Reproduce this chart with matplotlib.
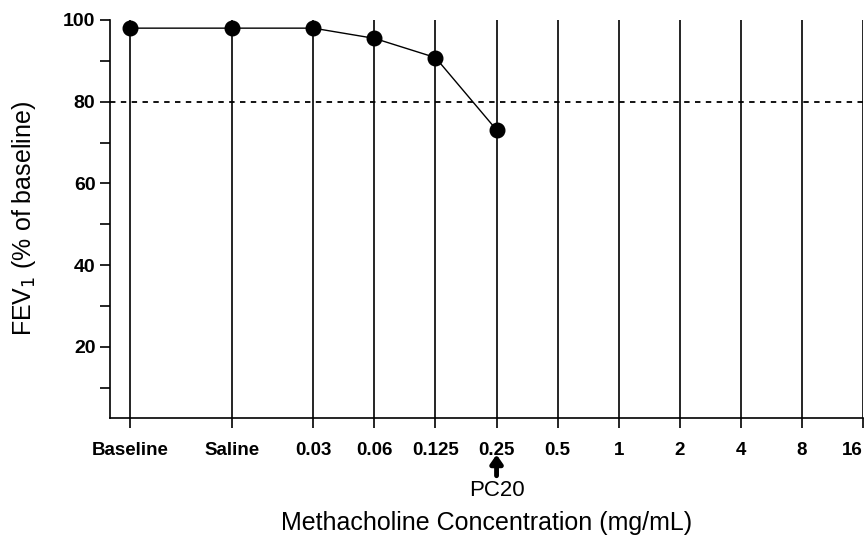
import numpy as np
import matplotlib.pyplot as plt

plt.rcParams['font.family'] = ['Liberation Sans', 'DejaVu Sans']

# ==== DATA ==================================================

categories = ["Baseline", "Saline", "0.03", "0.06", "0.125", "0.25",
              "0.5", "1", "2", "4", "8", "16"]
fev1 = [98, 98, 98, 95.5, 90.8, 73.1]   # % of baseline, first 6 steps
threshold = 80
pc20_label = "PC20"
pc20_index = 5

# ============================================================

# uneven spacing for baseline/saline, then one step per doubling
xpos = np.array([-3.0, -1.33] + list(range(len(categories) - 2)), dtype=float)

fig = plt.figure(figsize=(8.68, 5.37), dpi=100)
ax = fig.add_axes([0.1267, 0.2216, 0.8675, 0.7412])

for x in xpos:
    ax.axvline(x, color="black", lw=1.2, zorder=1)
ax.axhline(threshold, color="black", lw=1.3, ls=(0, (3, 3)), zorder=1)

ax.plot(xpos[:len(fev1)], fev1, color="black", lw=1.0, marker="o",
        ms=10.5, zorder=3, clip_on=False)

ax.set_xlim(-3.33, xpos[-1])
ax.set_ylim(2.6, 100)

ax.set_xticks(xpos)
ax.set_xticklabels(categories, fontsize=13.5, fontweight="bold")
ax.get_xticklabels()[-1].set_horizontalalignment("right")
ax.set_yticks([20, 40, 60, 80, 100])
ax.set_yticks([10, 30, 50, 70, 90], minor=True)
ax.tick_params(axis="y", which="both", length=7, width=1.2, labelsize=14)
for lab in ax.get_yticklabels():
    lab.set_fontweight("bold")
ax.tick_params(axis="x", length=7, width=1.2, pad=10)

for side in ["top", "right"]:
    ax.spines[side].set_visible(False)
ax.spines["left"].set_linewidth(1.2)
ax.spines["bottom"].set_linewidth(1.2)

# PC20 marker under the 0.25 step
xc = xpos[pc20_index]
ax.annotate("", xy=(xc, -0.092), xytext=(xc, -0.145),
            xycoords=("data", "axes fraction"),
            textcoords=("data", "axes fraction"), annotation_clip=False,
            arrowprops=dict(arrowstyle="-|>,head_width=0.35,head_length=0.5",
                            lw=3.5, color="black", shrinkA=0, shrinkB=0))
ax.text(xc, -0.182, pc20_label, transform=ax.get_xaxis_transform(),
        ha="center", va="center", fontsize=16)

ax.set_xlabel("Methacholine Concentration (mg/mL)", fontsize=18)
ax.xaxis.set_label_coords(0.5, -0.264)
ax.xaxis.label.set_va("center")
ax.set_ylabel("FEV$_1$ (% of baseline)", fontsize=18, labelpad=18)

fig.savefig("out.png", dpi=100)
